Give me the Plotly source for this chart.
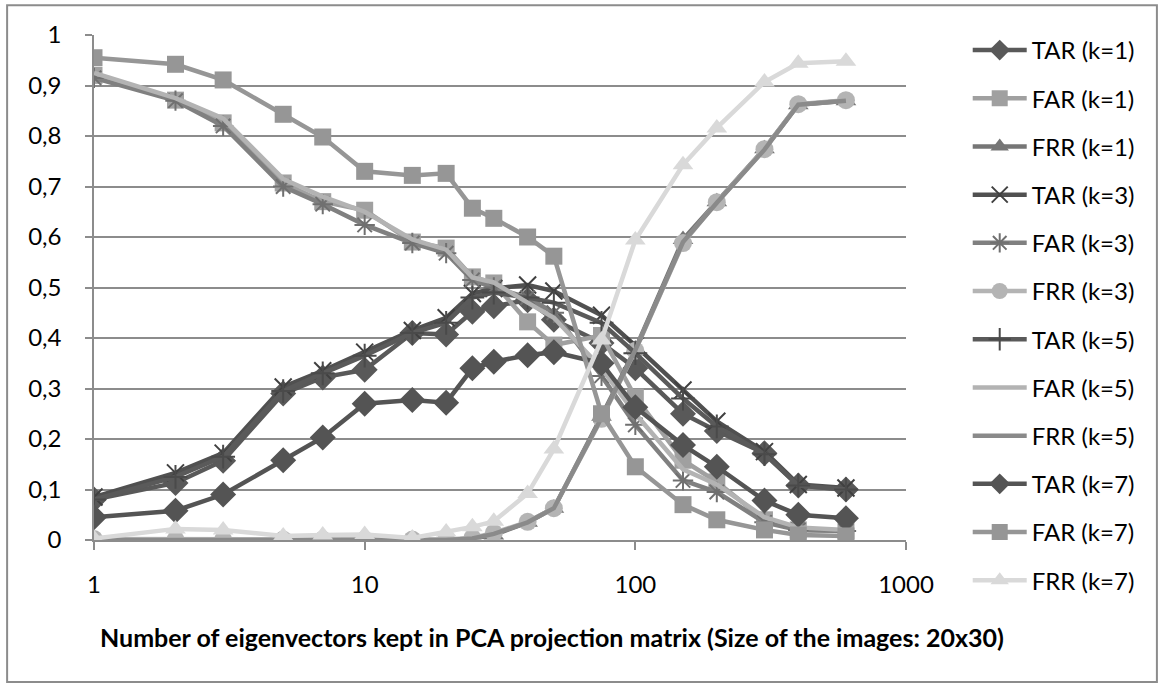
import plotly.graph_objects as go

# Number of eigenvectors kept (log-scaled x axis)
n_eigen = [1, 2, 3, 5, 7, 10, 15, 20, 25, 30, 40, 50, 75, 100, 150, 200, 300, 400, 600]

# Rates per k-NN setting
tar_k1 = [0.080, 0.113, 0.157, 0.290, 0.322, 0.337, 0.410, 0.407, 0.452, 0.463, 0.475, 0.436, 0.390, 0.340, 0.250, 0.216, 0.172, 0.108, 0.100]
far_k1 = [0.920, 0.871, 0.826, 0.707, 0.670, 0.653, 0.590, 0.578, 0.521, 0.509, 0.432, 0.386, 0.405, 0.283, 0.158, 0.115, 0.040, 0.020, 0.018]
frr_k1 = [0.000, 0.000, 0.000, 0.000, 0.000, 0.000, 0.000, 0.000, 0.003, 0.010, 0.035, 0.063, 0.245, 0.378, 0.595, 0.670, 0.775, 0.862, 0.870]
tar_k3 = [0.085, 0.133, 0.172, 0.303, 0.335, 0.372, 0.415, 0.440, 0.488, 0.498, 0.505, 0.493, 0.445, 0.385, 0.297, 0.235, 0.175, 0.110, 0.103]
far_k3 = [0.915, 0.870, 0.820, 0.700, 0.665, 0.624, 0.588, 0.568, 0.515, 0.500, 0.480, 0.450, 0.325, 0.228, 0.118, 0.095, 0.035, 0.020, 0.018]
frr_k3 = [0.002, 0.001, 0.001, 0.001, 0.001, 0.001, 0.001, 0.001, 0.004, 0.014, 0.036, 0.063, 0.240, 0.375, 0.588, 0.669, 0.774, 0.863, 0.871]
tar_k5 = [0.080, 0.125, 0.165, 0.295, 0.330, 0.365, 0.410, 0.430, 0.480, 0.490, 0.480, 0.470, 0.430, 0.370, 0.280, 0.225, 0.170, 0.108, 0.100]
far_k5 = [0.925, 0.875, 0.835, 0.715, 0.680, 0.650, 0.595, 0.575, 0.520, 0.510, 0.470, 0.440, 0.340, 0.250, 0.140, 0.110, 0.045, 0.025, 0.020]
frr_k5 = [0.000, 0.000, 0.000, 0.000, 0.000, 0.000, 0.000, 0.000, 0.003, 0.012, 0.035, 0.063, 0.242, 0.376, 0.590, 0.668, 0.773, 0.862, 0.870]
tar_k7 = [0.045, 0.058, 0.090, 0.158, 0.203, 0.270, 0.277, 0.272, 0.340, 0.353, 0.366, 0.372, 0.350, 0.263, 0.188, 0.145, 0.078, 0.050, 0.043]
far_k7 = [0.955, 0.942, 0.911, 0.843, 0.798, 0.730, 0.722, 0.726, 0.657, 0.637, 0.600, 0.562, 0.250, 0.145, 0.070, 0.040, 0.020, 0.010, 0.008]
frr_k7 = [0.003, 0.022, 0.020, 0.008, 0.010, 0.011, 0.004, 0.016, 0.026, 0.037, 0.092, 0.180, 0.396, 0.594, 0.743, 0.816, 0.907, 0.944, 0.948]

x_tick_vals = [1, 10, 100, 1000]
x_tick_text = ["1", "10", "100", "1000"]
y_tick_vals = [0, 0.1, 0.2, 0.3, 0.4, 0.5, 0.6, 0.7, 0.8, 0.9, 1]
y_tick_text = ["0", "0,1", "0,2", "0,3", "0,4", "0,5", "0,6", "0,7", "0,8", "0,9", "1"]

x_title = "Number of eigenvectors kept in PCA projection matrix (Size of the images: 20x30)"

FONT = "Lato, 'Open Sans', sans-serif"
FS = 24

# name, values, line colour, marker spec (None = plain line)
series = [
    ("TAR (k=1)", tar_k1, "#595959", dict(symbol="diamond", size=20)),
    ("FAR (k=1)", far_k1, "#a0a0a0", dict(symbol="square", size=17)),
    ("FRR (k=1)", frr_k1, "#767676", dict(symbol="triangle-up", size=18)),
    ("TAR (k=3)", tar_k3, "#505050", dict(symbol="x-thin", size=17, line=dict(width=2, color="#404040"))),
    ("FAR (k=3)", far_k3, "#808080", dict(symbol="asterisk", size=17, line=dict(width=2, color="#707070"))),
    ("FRR (k=3)", frr_k3, "#b4b4b4", dict(symbol="circle", size=18)),
    ("TAR (k=5)", tar_k5, "#5a5a5a", dict(symbol="cross-thin", size=17, line=dict(width=2, color="#4a4a4a"))),
    ("FAR (k=5)", far_k5, "#b3b3b3", None),
    ("FRR (k=5)", frr_k5, "#8a8a8a", None),
    ("TAR (k=7)", tar_k7, "#545454", dict(symbol="diamond", size=20)),
    ("FAR (k=7)", far_k7, "#969696", dict(symbol="square", size=17)),
    ("FRR (k=7)", frr_k7, "#d9d9d9", dict(symbol="triangle-up", size=18)),
]

fig = go.Figure()
for i, (name, vals, col, mk) in enumerate(series):
    if mk is None:
        mode = "lines"
        marker = None
    else:
        mode = "lines+markers"
        marker = dict(mk)
        marker.setdefault("color", col)
        marker.setdefault("line", dict(width=0, color=col))
    fig.add_trace(go.Scatter(
        x=n_eigen, y=vals, name=name, mode=mode,
        line=dict(color=col, width=4.5),
        marker=marker,
        legendgroup=f"g{i}",
    ))

fig.update_layout(
    width=1159, height=684,
    margin=dict(l=94, r=253, t=35, b=144),
    paper_bgcolor="white", plot_bgcolor="white",
    font=dict(family=FONT, size=FS, color="#000000"),
    showlegend=True,
    legend=dict(
        x=1.076, xanchor="left", y=1.014, yanchor="top",
        traceorder="grouped", tracegroupgap=14, maxheight=684,
        itemwidth=54, font=dict(size=FS, family=FONT),
        bgcolor="rgba(0,0,0,0)",
    ),
    xaxis=dict(
        type="log", range=[0, 3],
        tickvals=x_tick_vals, ticktext=x_tick_text,
        showgrid=False, zeroline=False,
        showline=True, linecolor="#8c8c8c", linewidth=1.5,
        ticks="outside", ticklen=8, tickcolor="#8c8c8c", tickwidth=1.5,
        ticklabelstandoff=14,
        tickfont=dict(size=FS, family=FONT),
    ),
    yaxis=dict(
        range=[0, 1], tickvals=y_tick_vals, ticktext=y_tick_text,
        showgrid=True, gridcolor="#8c8c8c", gridwidth=1.5,
        zeroline=False, showline=True, linecolor="#8c8c8c", linewidth=1.5,
        ticks="outside", ticklen=7, tickcolor="#8c8c8c", tickwidth=1.5,
        ticklabelstandoff=19,
        tickfont=dict(size=FS, family=FONT),
    ),
    annotations=[dict(
        text=f"<b>{x_title}</b>", xref="paper", yref="paper",
        x=0.564, y=-0.192, xanchor="center", yanchor="middle",
        showarrow=False, font=dict(size=25, family=FONT, color="#000000"),
    )],
    shapes=[dict(type="rect", xref="paper", yref="paper",
                 x0=-0.107, x1=1.309, y0=-0.281, y1=1.059,
                 line=dict(color="#8c8c8c", width=2), fillcolor="rgba(0,0,0,0)")],
)

fig.write_html("out.html")
